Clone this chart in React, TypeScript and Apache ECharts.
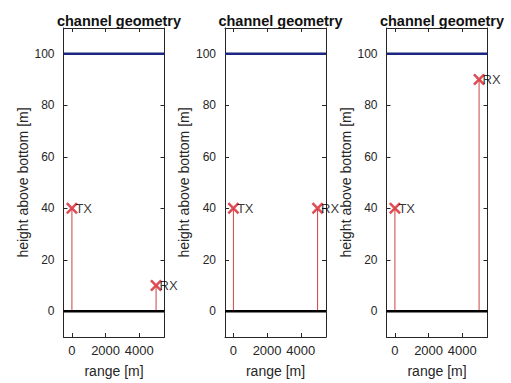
import React, { useEffect, useRef } from "react";
import * as echarts from "echarts";

// Channel geometry: transmitter / receiver positions for three scenarios
const panelTitles = ["channel geometry", "channel geometry", "channel geometry"];
const rangeLimits = [-500, 5500];
const heightLimits = [-10, 110];
const rangeTicks = [0, 2000, 4000];
const heightTicks = [0, 20, 40, 60, 80, 100];
const surfaceHeight = 100;
const bottomHeight = 0;
const txRange = [0, 0, 0];
const txHeight = [40, 40, 40];
const rxRange = [5000, 5000, 5000];
const rxHeight = [10, 40, 90];
const markerNames = ["TX", "RX"];

const FONT = "'Liberation Sans', Arial, Helvetica, sans-serif";
const AXIS_COLOR = "#262626";
const GRID_LEFT = [63.5, 225, 386.5];
const GRID_WIDTH = 101;
const GRID_TOP = 28;
const GRID_HEIGHT = 315;

const CROSS =
  "path://M0,1.5L1.5,0L5,3.5L8.5,0L10,1.5L6.5,5L10,8.5L8.5,10L5,6.5L1.5,10L0,8.5L3.5,5Z";

const plain = (v: number) => String(v);

function buildOption() {
  const grid: any[] = [];
  const title: any[] = [];
  const xAxis: any[] = [];
  const yAxis: any[] = [];
  const series: any[] = [];

  panelTitles.forEach((t, i) => {
    grid.push({
      left: GRID_LEFT[i],
      top: GRID_TOP,
      width: GRID_WIDTH,
      height: GRID_HEIGHT,
      containLabel: false,
    });
    title.push({
      text: t,
      left: GRID_LEFT[i] + GRID_WIDTH / 2,
      top: 8,
      textAlign: "center",
      textStyle: { fontFamily: FONT, fontSize: 14.5, fontWeight: "bold", color: "#111" },
    });

    const line = { show: true, onZero: false, lineStyle: { color: AXIS_COLOR, width: 1 } };
    // bottom range axis
    xAxis.push({
      gridIndex: i,
      type: "value",
      position: "bottom",
      min: rangeLimits[0],
      max: rangeLimits[1],
      name: "range [m]",
      nameLocation: "middle",
      nameGap: 27,
      nameTextStyle: { fontFamily: FONT, fontSize: 14, color: AXIS_COLOR },
      axisLine: line,
      axisTick: { show: true, inside: true, length: 4, customValues: rangeTicks, lineStyle: { color: AXIS_COLOR } },
      axisLabel: {
        show: true,
        customValues: rangeTicks,
        formatter: plain,
        margin: 7,
        fontFamily: FONT,
        fontSize: 13,
        color: AXIS_COLOR,
      },
      splitLine: { show: false },
    });
    // top box edge
    xAxis.push({
      gridIndex: i,
      type: "value",
      position: "top",
      min: rangeLimits[0],
      max: rangeLimits[1],
      axisLine: line,
      axisTick: { show: true, inside: true, length: 4, customValues: rangeTicks, lineStyle: { color: AXIS_COLOR } },
      axisLabel: { show: false },
      splitLine: { show: false },
    });
    // left height axis
    yAxis.push({
      gridIndex: i,
      type: "value",
      position: "left",
      min: heightLimits[0],
      max: heightLimits[1],
      name: "height above bottom [m]",
      nameLocation: "middle",
      nameGap: 34,
      nameTextStyle: { fontFamily: FONT, fontSize: 14, color: AXIS_COLOR },
      axisLine: line,
      axisTick: { show: true, inside: true, length: 4, customValues: heightTicks, lineStyle: { color: AXIS_COLOR } },
      axisLabel: {
        show: true,
        customValues: heightTicks,
        formatter: plain,
        margin: 9,
        fontFamily: FONT,
        fontSize: 12,
        color: AXIS_COLOR,
      },
      splitLine: { show: false },
    });
    // right box edge
    yAxis.push({
      gridIndex: i,
      type: "value",
      position: "right",
      min: heightLimits[0],
      max: heightLimits[1],
      axisLine: line,
      axisTick: { show: true, inside: true, length: 4, customValues: heightTicks, lineStyle: { color: AXIS_COLOR } },
      axisLabel: { show: false },
      splitLine: { show: false },
    });

    const xi = i * 2;
    const yi = i * 2;
    const base = { xAxisIndex: xi, yAxisIndex: yi, symbol: "none", silent: true };

    // antenna stems
    series.push({
      ...base,
      type: "line",
      data: [[txRange[i], bottomHeight], [txRange[i], txHeight[i]]],
      lineStyle: { color: "#cc4444", width: 1 },
    });
    series.push({
      ...base,
      type: "line",
      data: [[rxRange[i], bottomHeight], [rxRange[i], rxHeight[i]]],
      lineStyle: { color: "#cc4444", width: 1 },
    });
    // sea surface
    series.push({
      ...base,
      type: "line",
      data: [[rangeLimits[0], surfaceHeight], [rangeLimits[1], surfaceHeight]],
      lineStyle: { color: "#1c2784", width: 2.5 },
    });
    // sea bottom
    series.push({
      ...base,
      type: "line",
      data: [[rangeLimits[0], bottomHeight], [rangeLimits[1], bottomHeight]],
      lineStyle: { color: "#000", width: 2.5 },
    });
    // transmitter and receiver markers
    series.push({
      xAxisIndex: xi,
      yAxisIndex: yi,
      type: "scatter",
      symbol: CROSS,
      symbolSize: 12,
      itemStyle: { color: "#d81e2c" },
      data: [
        { value: [txRange[i], txHeight[i]], name: markerNames[0] },
        { value: [rxRange[i], rxHeight[i]], name: markerNames[1] },
      ],
      label: {
        show: true,
        formatter: "{b}",
        position: [9.5, 6],
        align: "left",
        verticalAlign: "middle",
        fontFamily: FONT,
        fontSize: 13,
        color: "#000",
      },
    });
  });

  return {
    animation: false,
    backgroundColor: "#fff",
    title,
    grid,
    xAxis,
    yAxis,
    series,
  };
}

export default function App() {
  const ref = useRef<HTMLDivElement>(null);
  useEffect(() => {
    if (!ref.current) return;
    const chart = echarts.init(ref.current, null, { renderer: "svg" });
    chart.setOption(buildOption() as any);
    return () => chart.dispose();
  }, []);
  return (
    <div
      ref={ref}
      style={{ position: "fixed", left: 0, top: 0, width: 511, height: 383, background: "#fff" }}
    />
  );
}
